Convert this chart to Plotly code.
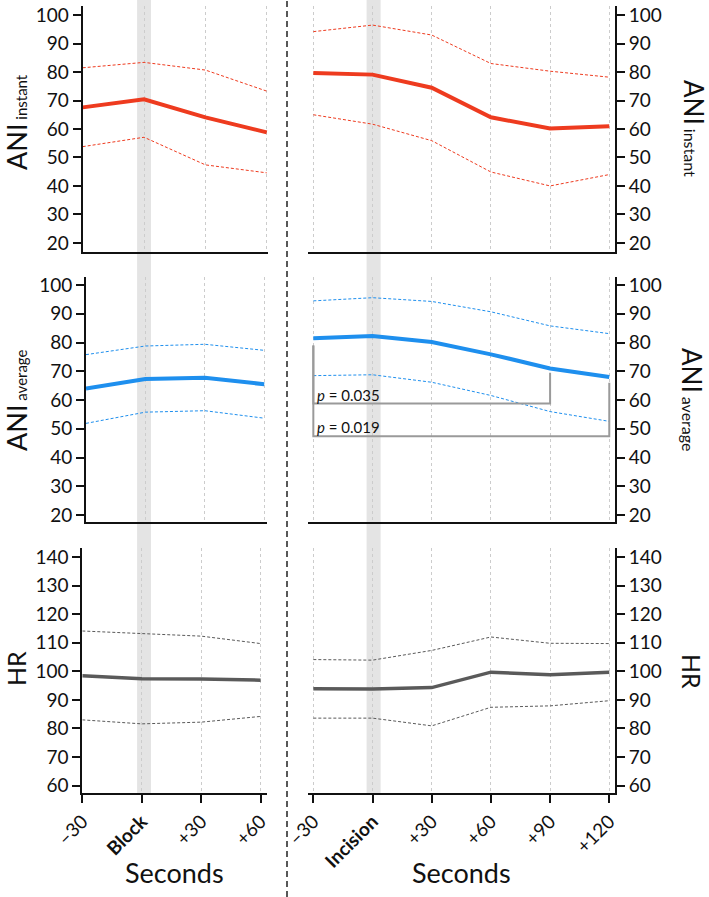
import plotly.graph_objects as go

# ---------------- data ----------------
x_block = [-30, 0, 30, 60]
x_incision = [-30, 0, 30, 60, 90, 120]
block_ticktext = ["–30", "<b>Block</b>", "+30", "+60"]
incision_ticktext = ["–30", "<b>Incision</b>", "+30", "+60", "+90", "+120"]

ani_inst_block_mean = [67.6, 70.4, 64.1, 58.8]
ani_inst_block_upper = [81.5, 83.4, 80.7, 73.3]
ani_inst_block_lower = [53.8, 57.1, 47.4, 44.6]
ani_inst_inc_mean = [79.7, 79.1, 74.5, 64.1, 60.2, 61.0]
ani_inst_inc_upper = [94.2, 96.5, 93.0, 83.0, 80.3, 78.2]
ani_inst_inc_lower = [65.0, 61.7, 55.9, 44.9, 40.0, 44.0]

ani_avg_block_mean = [64.0, 67.3, 67.8, 65.5]
ani_avg_block_upper = [75.8, 78.8, 79.4, 77.3]
ani_avg_block_lower = [51.9, 55.8, 56.3, 53.7]
ani_avg_inc_mean = [81.5, 82.3, 80.2, 75.9, 71.0, 68.0]
ani_avg_inc_upper = [94.5, 95.6, 94.3, 90.7, 85.8, 83.1]
ani_avg_inc_lower = [68.5, 68.8, 66.2, 61.6, 56.0, 52.6]

hr_block_mean = [98.4, 97.4, 97.3, 96.9]
hr_block_upper = [114.1, 113.3, 112.3, 109.7]
hr_block_lower = [83.0, 81.6, 82.2, 84.2]
hr_inc_mean = [93.9, 93.8, 94.3, 99.7, 98.8, 99.7]
hr_inc_upper = [104.1, 103.9, 107.3, 112.0, 109.8, 109.7]
hr_inc_lower = [83.6, 83.6, 80.9, 87.4, 87.9, 89.7]

# significance brackets (ANI average, incision)
bracket1_x = [-30, -30, 90, 90]
bracket1_y = [79.0, 58.8, 58.8, 69.5]
bracket2_x = [-30, -30, 120, 120]
bracket2_y = [79.0, 47.4, 47.4, 66.0]
p_labels = ["<i>p</i> = 0.035", "<i>p</i> = 0.019"]
p_label_y = [61.6, 50.7]

ani_ticks = [20, 30, 40, 50, 60, 70, 80, 90, 100]
hr_ticks = [60, 70, 80, 90, 100, 110, 120, 130, 140]

# ---------------- style ----------------
W, H = 709, 897
RED = "#EE3B1F"
BLUE = "#1E8FEE"
GRAY = "#5a5a5a"
FONT = "Lato"

def fx(px):
    return px / W

def fy(px):
    return 1 - px / H

fig = go.Figure()

def add_group(xs, mean, up, lo, color, mw, xa, ya):
    for yy in (up, lo):
        fig.add_trace(go.Scatter(x=xs, y=yy, mode="lines", xaxis=xa, yaxis=ya,
                                 line=dict(color=color, width=1, dash="3px,2px"),
                                 showlegend=False, hoverinfo="skip"))
    fig.add_trace(go.Scatter(x=xs, y=mean, mode="lines", xaxis=xa, yaxis=ya,
                             line=dict(color=color, width=mw), showlegend=False))

add_group(x_block, ani_inst_block_mean, ani_inst_block_upper, ani_inst_block_lower, RED, 4, "x", "y")
add_group(x_incision, ani_inst_inc_mean, ani_inst_inc_upper, ani_inst_inc_lower, RED, 4, "x2", "y2")
add_group(x_block, ani_avg_block_mean, ani_avg_block_upper, ani_avg_block_lower, BLUE, 4, "x3", "y3")
add_group(x_incision, ani_avg_inc_mean, ani_avg_inc_upper, ani_avg_inc_lower, BLUE, 4, "x4", "y4")
add_group(x_block, hr_block_mean, hr_block_upper, hr_block_lower, GRAY, 3.5, "x5", "y5")
add_group(x_incision, hr_inc_mean, hr_inc_upper, hr_inc_lower, GRAY, 3.5, "x6", "y6")

for bx, by in ((bracket1_x, bracket1_y), (bracket2_x, bracket2_y)):
    fig.add_trace(go.Scatter(x=bx, y=by, mode="lines", xaxis="x4", yaxis="y4",
                             line=dict(color="#9a9a9a", width=2), showlegend=False,
                             hoverinfo="skip"))

# ---------------- axes ----------------
tickfont = dict(family=FONT, size=19, color="#111")

def xaxis(dom_px, rng, anchor, tickvals, ticktext, bottom):
    d = dict(domain=[fx(dom_px[0]), fx(dom_px[1])], range=rng, anchor=anchor,
             showline=True, linecolor="#111", linewidth=2, zeroline=False,
             showgrid=True, gridcolor="#cccccc", griddash="dot", gridwidth=1,
             tickvals=tickvals, ticktext=ticktext, fixedrange=True, automargin=False)
    if bottom:
        d.update(ticks="outside", ticklen=8, tickwidth=1.5, tickcolor="#111",
                 tickangle=-45, tickfont=dict(family=FONT, size=19, color="#111"))
    else:
        d.update(ticks="", showticklabels=False)
    return d

def yaxis(dom_px, rng, anchor, tickvals, side):
    return dict(domain=[fy(dom_px[1]), fy(dom_px[0])], range=rng, anchor=anchor,
                side=side, showline=True, linecolor="#111", linewidth=2,
                zeroline=False, showgrid=False, tickvals=tickvals,
                ticks="outside", ticklen=8, tickwidth=1.5, tickcolor="#111",
                tickfont=tickfont, fixedrange=True, automargin=False)

TOP = (6, 252)
MID = (277, 522)
BOT = (548, 793)
R_TOP = [16.8, 103.2]
R_MID = [17.6, 102.8]
R_BOT = [57.4, 143.15]
RIGHT_DOM = (308, 615)
RIGHT_RNG = [-32.7, 122.9]

layout = dict(
    width=W, height=H,
    margin=dict(l=0, r=0, t=0, b=0, pad=0, autoexpand=False),
    paper_bgcolor="white", plot_bgcolor="rgba(0,0,0,0)",
    font=dict(family=FONT, color="#111"), showlegend=False,
    xaxis=xaxis((82.7, 268), [-30, 60.6], "y", x_block, block_ticktext, False),
    xaxis2=xaxis(RIGHT_DOM, RIGHT_RNG, "y2", x_incision, incision_ticktext, False),
    xaxis3=xaxis((86, 267), [-30, 61.4], "y3", x_block, block_ticktext, False),
    xaxis4=xaxis(RIGHT_DOM, RIGHT_RNG, "y4", x_incision, incision_ticktext, False),
    xaxis5=xaxis((82.3, 267), [-30, 63.2], "y5", x_block, block_ticktext, True),
    xaxis6=xaxis(RIGHT_DOM, RIGHT_RNG, "y6", x_incision, incision_ticktext, True),
    yaxis=yaxis(TOP, R_TOP, "x", ani_ticks, "left"),
    yaxis2=yaxis(TOP, R_TOP, "x2", ani_ticks, "right"),
    yaxis3=yaxis(MID, R_MID, "x3", ani_ticks, "left"),
    yaxis4=yaxis(MID, R_MID, "x4", ani_ticks, "right"),
    yaxis5=yaxis(BOT, R_BOT, "x5", hr_ticks, "left"),
    yaxis6=yaxis(BOT, R_BOT, "x6", hr_ticks, "right"),
)
fig.update_layout(**layout)

# ---------------- shapes ----------------
shapes = [
    dict(type="rect", xref="x", yref="paper", x0=-3.4, x1=3.4, y0=fy(793), y1=1,
         fillcolor="#e4e4e4", line=dict(width=0), layer="below"),
    dict(type="rect", xref="x2", yref="paper", x0=-3.0, x1=4.1, y0=fy(793), y1=1,
         fillcolor="#e4e4e4", line=dict(width=0), layer="below"),
    dict(type="line", xref="paper", yref="paper", x0=fx(287), x1=fx(287), y0=0, y1=1,
         line=dict(color="#222", width=1.5, dash="6px,4px")),
]
fig.update_layout(shapes=shapes)

# ---------------- annotations ----------------
ann = []
def title(text, xpx, ypx, angle, size=26):
    ann.append(dict(text=text, xref="paper", yref="paper", x=fx(xpx), y=fy(ypx),
                    xanchor="center", yanchor="middle", showarrow=False,
                    textangle=angle, font=dict(family=FONT, size=size, color="#111")))

title("ANI<span style='font-size:15px'> instant</span>", 16, 122, -90, 27)
title("ANI<span style='font-size:15px'> average</span>", 16, 400, -90, 27)
title("HR", 16, 669, -90, 25)
title("ANI<span style='font-size:16px'> instant</span>", 694, 128, 90)
title("ANI<span style='font-size:16px'> average</span>", 692, 399, 90)
title("HR", 692, 671, 90, 25)

for xpx in (174, 461):
    ann.append(dict(text="Seconds", xref="paper", yref="paper", x=fx(xpx), y=fy(872),
                    xanchor="center", yanchor="middle", showarrow=False,
                    font=dict(family=FONT, size=27, color="#111")))

for lbl, yv in zip(p_labels, p_label_y):
    ann.append(dict(text=lbl, xref="x4", yref="y4", x=-29.3, y=yv, xanchor="left",
                    yanchor="middle", showarrow=False,
                    font=dict(family=FONT, size=15, color="#111")))
fig.update_layout(annotations=ann)

fig.write_html(
    "out.html",
    config={"displayModeBar": False},
    post_script="document.body.style.margin='0';document.body.style.overflow='hidden';",
)
